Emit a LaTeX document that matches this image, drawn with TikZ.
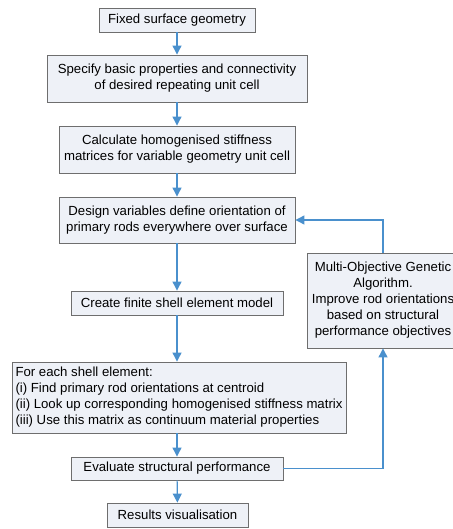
\documentclass[tikz,border=0pt]{standalone}
\usepackage{fontspec}
\setmainfont{Liberation Sans}
\usetikzlibrary{arrows.meta}
\definecolor{boxfill}{HTML}{EEF1F7}
\definecolor{boxline}{HTML}{6E6E6E}
\definecolor{flowblue}{HTML}{4A90CD}
\begin{document}
\begin{tikzpicture}[x=1pt,y=-1pt,>={Triangle[length=9pt,width=9pt]},
        box/.style={draw=boxline,fill=boxfill,line width=0.9pt,inner sep=0pt,
            align=center,font=\fontsize{13.2}{16}\selectfont},
        flow/.style={->,draw=flowblue,line width=1.2pt}]
        \useasboundingbox (0,0) rectangle (452,529);
        % main column
        \node[box,minimum width=156pt,minimum height=24pt] (fix) at (177,20)
        {Fixed surface geometry};
        \node[box,minimum width=260pt,minimum height=47pt] (spec) at (177,78.5)
        {Specify basic properties and connectivity\\of desired repeating unit cell};
        \node[box,minimum width=236pt,minimum height=47pt] (calc) at (177,149.5)
        {Calculate homogenised stiffness\\matrices for variable geometry unit cell};
        \node[box,minimum width=236pt,minimum height=46pt] (design) at (177,220)
        {Design variables define orientation of\\primary rods everywhere over surface};
        \node[box,minimum width=212pt,minimum height=24pt] (fem) at (177,303)
        {Create finite shell element model};
        \node[box,minimum width=334pt,minimum height=71pt,align=left] (shell)
        at (179,397.5)
        {For each shell element:\\(i) Find primary rod orientations at centroid\\
        (ii) Look up corresponding homogenised stiffness matrix\\
        (iii) Use this matrix as continuum material properties};
        \node[box,minimum width=212pt,minimum height=23pt] (eval) at (177,468.5)
        {Evaluate structural performance};
        \node[box,minimum width=141pt,minimum height=24pt] (res) at (177.5,515)
        {Results visualisation};
        % optimiser loop
        \node[box,minimum width=152pt,minimum height=95pt] (moga) at (383,300.5)
        {Multi-Objective Genetic\\Algorithm.\\Improve rod orientations\\
        based on structural\\performance objectives};
        \draw[flow] (fix) -- (spec);
        \draw[flow] (spec) -- (calc);
        \draw[flow] (calc) -- (design);
        \draw[flow] (design) -- (fem);
        \draw[flow] (fem) -- (fem|-shell.north);
        \draw[flow] (fem|-shell.south) -- (eval);
        \draw[flow] (eval) -- (res);
        \draw[flow] (eval.east) -| (moga.south);
        \draw[flow] (moga.north) |- (design.east);
\end{tikzpicture}
\end{document}
